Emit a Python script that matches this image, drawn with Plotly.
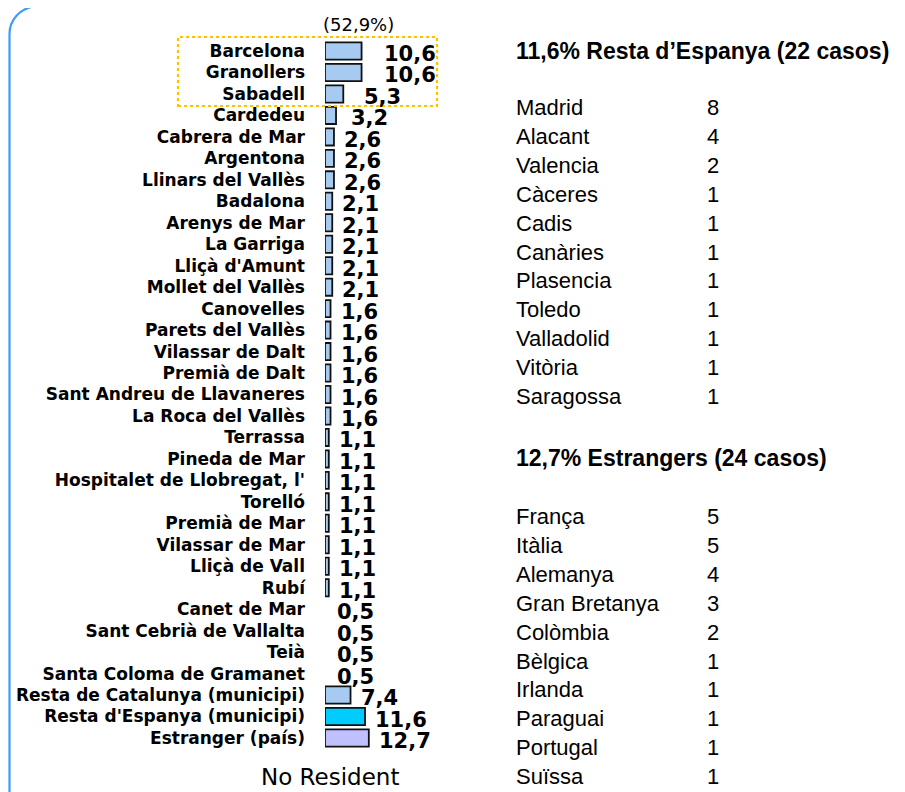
import plotly.graph_objects as go

# ---------------- data ----------------
municipis = [
    "Barcelona", "Granollers", "Sabadell", "Cardedeu", "Cabrera de Mar",
    "Argentona", "Llinars del Vallès", "Badalona", "Arenys de Mar", "La Garriga",
    "Lliçà d'Amunt", "Mollet del Vallès", "Canovelles", "Parets del Vallès",
    "Vilassar de Dalt", "Premià de Dalt", "Sant Andreu de Llavaneres",
    "La Roca del Vallès", "Terrassa", "Pineda de Mar", "Hospitalet de Llobregat, l'",
    "Torelló", "Premià de Mar", "Vilassar de Mar", "Lliçà de Vall", "Rubí",
    "Canet de Mar", "Sant Cebrià de Vallalta", "Teià", "Santa Coloma de Gramanet",
    "Resta de Catalunya (municipi)", "Resta d'Espanya (municipi)", "Estranger (país)",
]
percentatges = [
    10.6, 10.6, 5.3, 3.2, 2.6,
    2.6, 2.6, 2.1, 2.1, 2.1,
    2.1, 2.1, 1.6, 1.6,
    1.6, 1.6, 1.6,
    1.6, 1.1, 1.1, 1.1,
    1.1, 1.1, 1.1, 1.1, 1.1,
    0.5, 0.5, 0.5, 0.5,
    7.4, 11.6, 12.7,
]
top3_label = "(52,9%)"
footer_label = "No Resident"

espanya_title = "11,6% Resta d’Espanya (22 casos)"
espanya_llocs = ["Madrid", "Alacant", "Valencia", "Càceres", "Cadis", "Canàries",
                 "Plasencia", "Toledo", "Valladolid", "Vitòria", "Saragossa"]
espanya_casos = [8, 4, 2, 1, 1, 1, 1, 1, 1, 1, 1]

estrangers_title = "12,7% Estrangers (24 casos)"
estrangers_llocs = ["França", "Itàlia", "Alemanya", "Gran Bretanya", "Colòmbia",
                    "Bèlgica", "Irlanda", "Paraguai", "Portugal", "Suïssa"]
estrangers_casos = [5, 5, 4, 3, 2, 1, 1, 1, 1, 1]

# ---------------- styling ----------------
OFF = 8                      # page body margin
W, H = 905 - OFF, 792 - OFF
BASE = "#a6caf0"
special_colors = {"Resta d'Espanya (municipi)": "#00ccff", "Estranger (país)": "#c0c0ff"}
fills, line_w = [], []
for name, v in zip(municipis, percentatges):
    visible = v >= 1
    fills.append(special_colors.get(name, BASE) if visible else "rgba(0,0,0,0)")
    line_w.append(1.8 if visible else 0)

label_gap = {"Barcelona": 20, "Granollers": 20, "Sabadell": 19, "Cardedeu": 13}

def px(x):
    return (x - OFF) / W

def py(y):
    return 1 - (y - OFF) / H

fig = go.Figure()
fig.add_trace(go.Bar(
    x=percentatges, y=municipis, orientation="h",
    marker=dict(color=fills, line=dict(color="#111111", width=line_w)),
    width=0.8, hoverinfo="skip",
))

x0_px, scale = 325, 3.45
x_range = 40
fig.update_xaxes(range=[0, x_range], domain=[px(x0_px), px(x0_px + scale * x_range)],
                 visible=False, fixedrange=True)
row_top, row_bot = 40.3, 748.7
fig.update_yaxes(
    categoryorder="array", categoryarray=municipis,
    range=[len(municipis) - 0.5, -0.5], domain=[py(row_bot), py(row_top)],
    tickmode="array", tickvals=municipis, ticktext=municipis,
    showgrid=False, zeroline=False, showline=False, ticks="",
    ticklabelstandoff=19, automargin=False,
    tickfont=dict(family="DejaVu Sans", size=17, color="#000000", weight="bold"),
)

annotations = []
for name, v in zip(municipis, percentatges):
    annotations.append(dict(
        x=v, y=name, xref="x", yref="y", xanchor="left", yanchor="middle",
        xshift=label_gap.get(name, 8), yshift=-3, showarrow=False,
        text=f"{v:.1f}".replace(".", ","),
        font=dict(family="DejaVu Sans", size=21, color="#000000", weight="bold"),
    ))

annotations.append(dict(x=px(358), y=py(25), xref="paper", yref="paper",
                        xanchor="center", yanchor="middle", showarrow=False,
                        text=top3_label,
                        font=dict(family="DejaVu Sans", size=18, color="#000000")))
annotations.append(dict(x=px(330), y=py(777), xref="paper", yref="paper",
                        xanchor="center", yanchor="middle", showarrow=False,
                        text=footer_label,
                        font=dict(family="DejaVu Sans", size=23, color="#000000")))

title_font = dict(family="Liberation Sans", size=23, color="#000000", weight="bold")
item_font = dict(family="Liberation Sans", size=22, color="#000000")
col_name, col_num, step = 514, 705, 28.9

def add_block(title, title_y, names, counts, first_y):
    annotations.append(dict(x=px(col_name), y=py(title_y), xref="paper", yref="paper",
                            xanchor="left", yanchor="middle", showarrow=False,
                            text=title, font=title_font))
    for i, (n, c) in enumerate(zip(names, counts)):
        yy = first_y + i * step
        annotations.append(dict(x=px(col_name), y=py(yy), xref="paper", yref="paper",
                                xanchor="left", yanchor="middle", showarrow=False,
                                text=n, font=item_font))
        annotations.append(dict(x=px(col_num), y=py(yy), xref="paper", yref="paper",
                                xanchor="left", yanchor="middle", showarrow=False,
                                text=str(c), font=item_font))

add_block(espanya_title, 51, espanya_llocs, espanya_casos, 107.5)
add_block(estrangers_title, 458, estrangers_llocs, estrangers_casos, 516.5)

# rounded frame (only its left side and top-left corner fall inside the page)
def P(x, y):
    return f"{px(x):.5f},{py(y):.5f}"

fx = OFF + 1.5
frame = (f"M {P(fx, 800)} L {P(fx, 34)} C {P(fx, 20)} {P(fx + 10, 8.5)} {P(fx + 26, 6)} "
         f"L {P(920, 6)}")
shapes = [
    dict(type="path", xref="paper", yref="paper", path=frame,
         line=dict(color="#3d9df5", width=2.2)),
    dict(type="rect", xref="paper", yref="paper",
         x0=px(178), x1=px(437), y0=py(106), y1=py(37),
         line=dict(color="#ffc000", width=2.2, dash="dot")),
]

fig.update_layout(
    width=W, height=H, margin=dict(l=0, r=0, t=0, b=0, pad=0),
    paper_bgcolor="white", plot_bgcolor="white",
    showlegend=False, annotations=annotations, shapes=shapes, bargap=0.2,
)

fig.write_html("out.html")
